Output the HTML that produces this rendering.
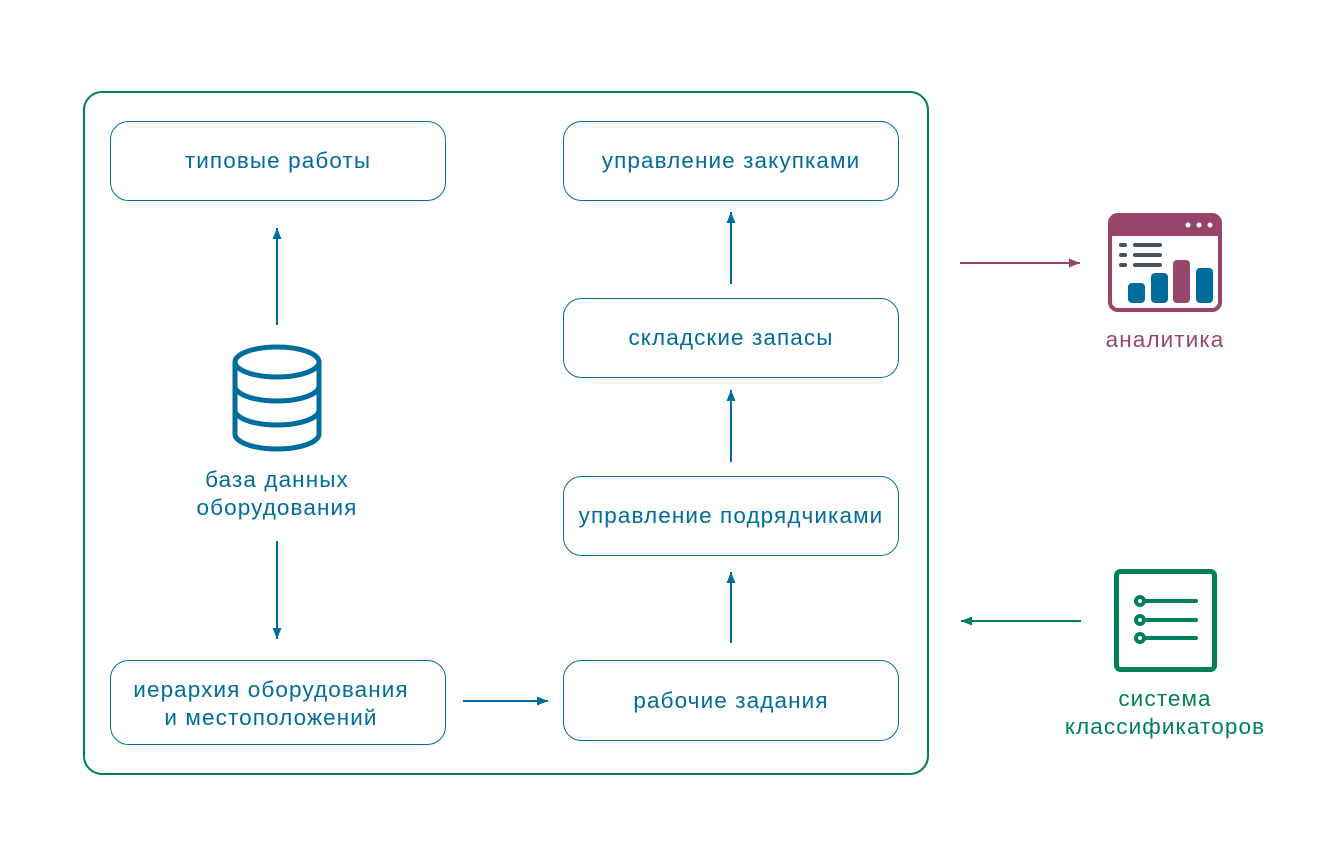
<!DOCTYPE html>
<html><head><meta charset="utf-8"><style>
body{margin:0;background:#fff;width:1333px;height:845px;overflow:hidden}
svg text{font-family:"Liberation Sans",sans-serif;font-size:22.5px;letter-spacing:1.1px}
</style></head><body>
<svg width="1333" height="845" viewBox="0 0 1333 845">
<defs>
<marker id="ab" markerWidth="12" markerHeight="12" refX="11" refY="6" orient="auto" markerUnits="userSpaceOnUse"><path d="M0,1.5 L11,6 L0,10.5z" fill="#006c9b"/></marker>
<marker id="am" markerWidth="12" markerHeight="12" refX="11" refY="6" orient="auto" markerUnits="userSpaceOnUse"><path d="M0,1.5 L11,6 L0,10.5z" fill="#98456a"/></marker>
<marker id="ag" markerWidth="12" markerHeight="12" refX="11" refY="6" orient="auto" markerUnits="userSpaceOnUse"><path d="M0,1.5 L11,6 L0,10.5z" fill="#00805a"/></marker>
</defs>
<rect x="84" y="92" width="844" height="682" rx="18" fill="none" stroke="#00805a" stroke-width="2"/>
<g fill="#fff" stroke="#006c9b" stroke-width="1">
<rect x="110.5" y="121.5" width="335" height="79" rx="18"/>
<rect x="563.5" y="121.5" width="335" height="79" rx="18"/>
<rect x="563.5" y="298.5" width="335" height="79" rx="18"/>
<rect x="563.5" y="476.5" width="335" height="79" rx="18"/>
<rect x="563.5" y="660.5" width="335" height="80" rx="18"/>
<rect x="110.5" y="660.5" width="335" height="84" rx="18"/>
</g>
<g fill="#006c9b" text-anchor="middle">
<text x="278" y="168">типовые работы</text>
<text x="731" y="168">управление закупками</text>
<text x="731" y="345">складские запасы</text>
<text x="731" y="523">управление подрядчиками</text>
<text x="731" y="708">рабочие задания</text>
<text x="271" y="697">иерархия оборудования</text>
<text x="271" y="725">и местоположений</text>
<text x="277" y="487">база данных</text>
<text x="277" y="515">оборудования</text>
</g>
<g stroke="#006c9b" stroke-width="2" fill="none">
<line x1="277" y1="325" x2="277" y2="228" marker-end="url(#ab)"/>
<line x1="277" y1="541" x2="277" y2="639" marker-end="url(#ab)"/>
<line x1="463" y1="701" x2="548" y2="701" marker-end="url(#ab)"/>
<line x1="731" y1="284" x2="731" y2="212" marker-end="url(#ab)"/>
<line x1="731" y1="462" x2="731" y2="390" marker-end="url(#ab)"/>
<line x1="731" y1="643" x2="731" y2="572" marker-end="url(#ab)"/>
</g>
<g stroke="#006c9b" stroke-width="5" fill="none">
<ellipse cx="277" cy="362" rx="42" ry="15"/>
<path d="M235,362 V434 A42,15 0 0 0 319,434 V362"/>
<path d="M235,386 A42,15 0 0 0 319,386"/>
<path d="M235,410 A42,15 0 0 0 319,410"/>
</g>
<line x1="960" y1="263" x2="1080" y2="263" stroke="#98456a" stroke-width="2" marker-end="url(#am)"/>
<rect x="1110" y="215" width="110" height="95" rx="8" fill="none" stroke="#98456a" stroke-width="4"/>
<path d="M1110,236 V223 a8,8 0 0 1 8,-8 H1212 a8,8 0 0 1 8,8 V236z" fill="#98456a"/>
<g fill="#fff"><circle cx="1188" cy="225" r="2.5"/><circle cx="1199" cy="225" r="2.5"/><circle cx="1210" cy="225" r="2.5"/></g>
<g stroke="#45525c" stroke-width="4" stroke-linecap="round">
<line x1="1121" y1="245" x2="1125" y2="245"/><line x1="1135" y1="245" x2="1160" y2="245"/>
<line x1="1121" y1="255" x2="1125" y2="255"/><line x1="1135" y1="255" x2="1160" y2="255"/>
<line x1="1121" y1="265" x2="1125" y2="265"/><line x1="1135" y1="265" x2="1160" y2="265"/>
</g>
<rect x="1128" y="283" width="17" height="20" rx="4" fill="#006c9b"/>
<rect x="1151" y="273" width="17" height="30" rx="4" fill="#006c9b"/>
<rect x="1173" y="260" width="17" height="43" rx="4" fill="#98456a"/>
<rect x="1196" y="268" width="17" height="35" rx="4" fill="#006c9b"/>
<text x="1165" y="347" text-anchor="middle" fill="#98456a">аналитика</text>
<line x1="1081" y1="621" x2="961" y2="621" stroke="#00805a" stroke-width="2" marker-end="url(#ag)"/>
<rect x="1116.5" y="571.5" width="98" height="98" rx="4" fill="none" stroke="#00805a" stroke-width="5"/>
<g stroke="#00805a" stroke-width="4" fill="none" stroke-linecap="round">
<circle cx="1140" cy="601" r="4"/><line x1="1144" y1="601" x2="1196" y2="601"/>
<circle cx="1140" cy="620" r="4"/><line x1="1144" y1="620" x2="1196" y2="620"/>
<circle cx="1140" cy="638" r="4"/><line x1="1144" y1="638" x2="1196" y2="638"/>
</g>
<text x="1165" y="706" text-anchor="middle" fill="#00805a">система</text>
<text x="1165" y="734" text-anchor="middle" fill="#00805a">классификаторов</text>
</svg>
</body></html>
